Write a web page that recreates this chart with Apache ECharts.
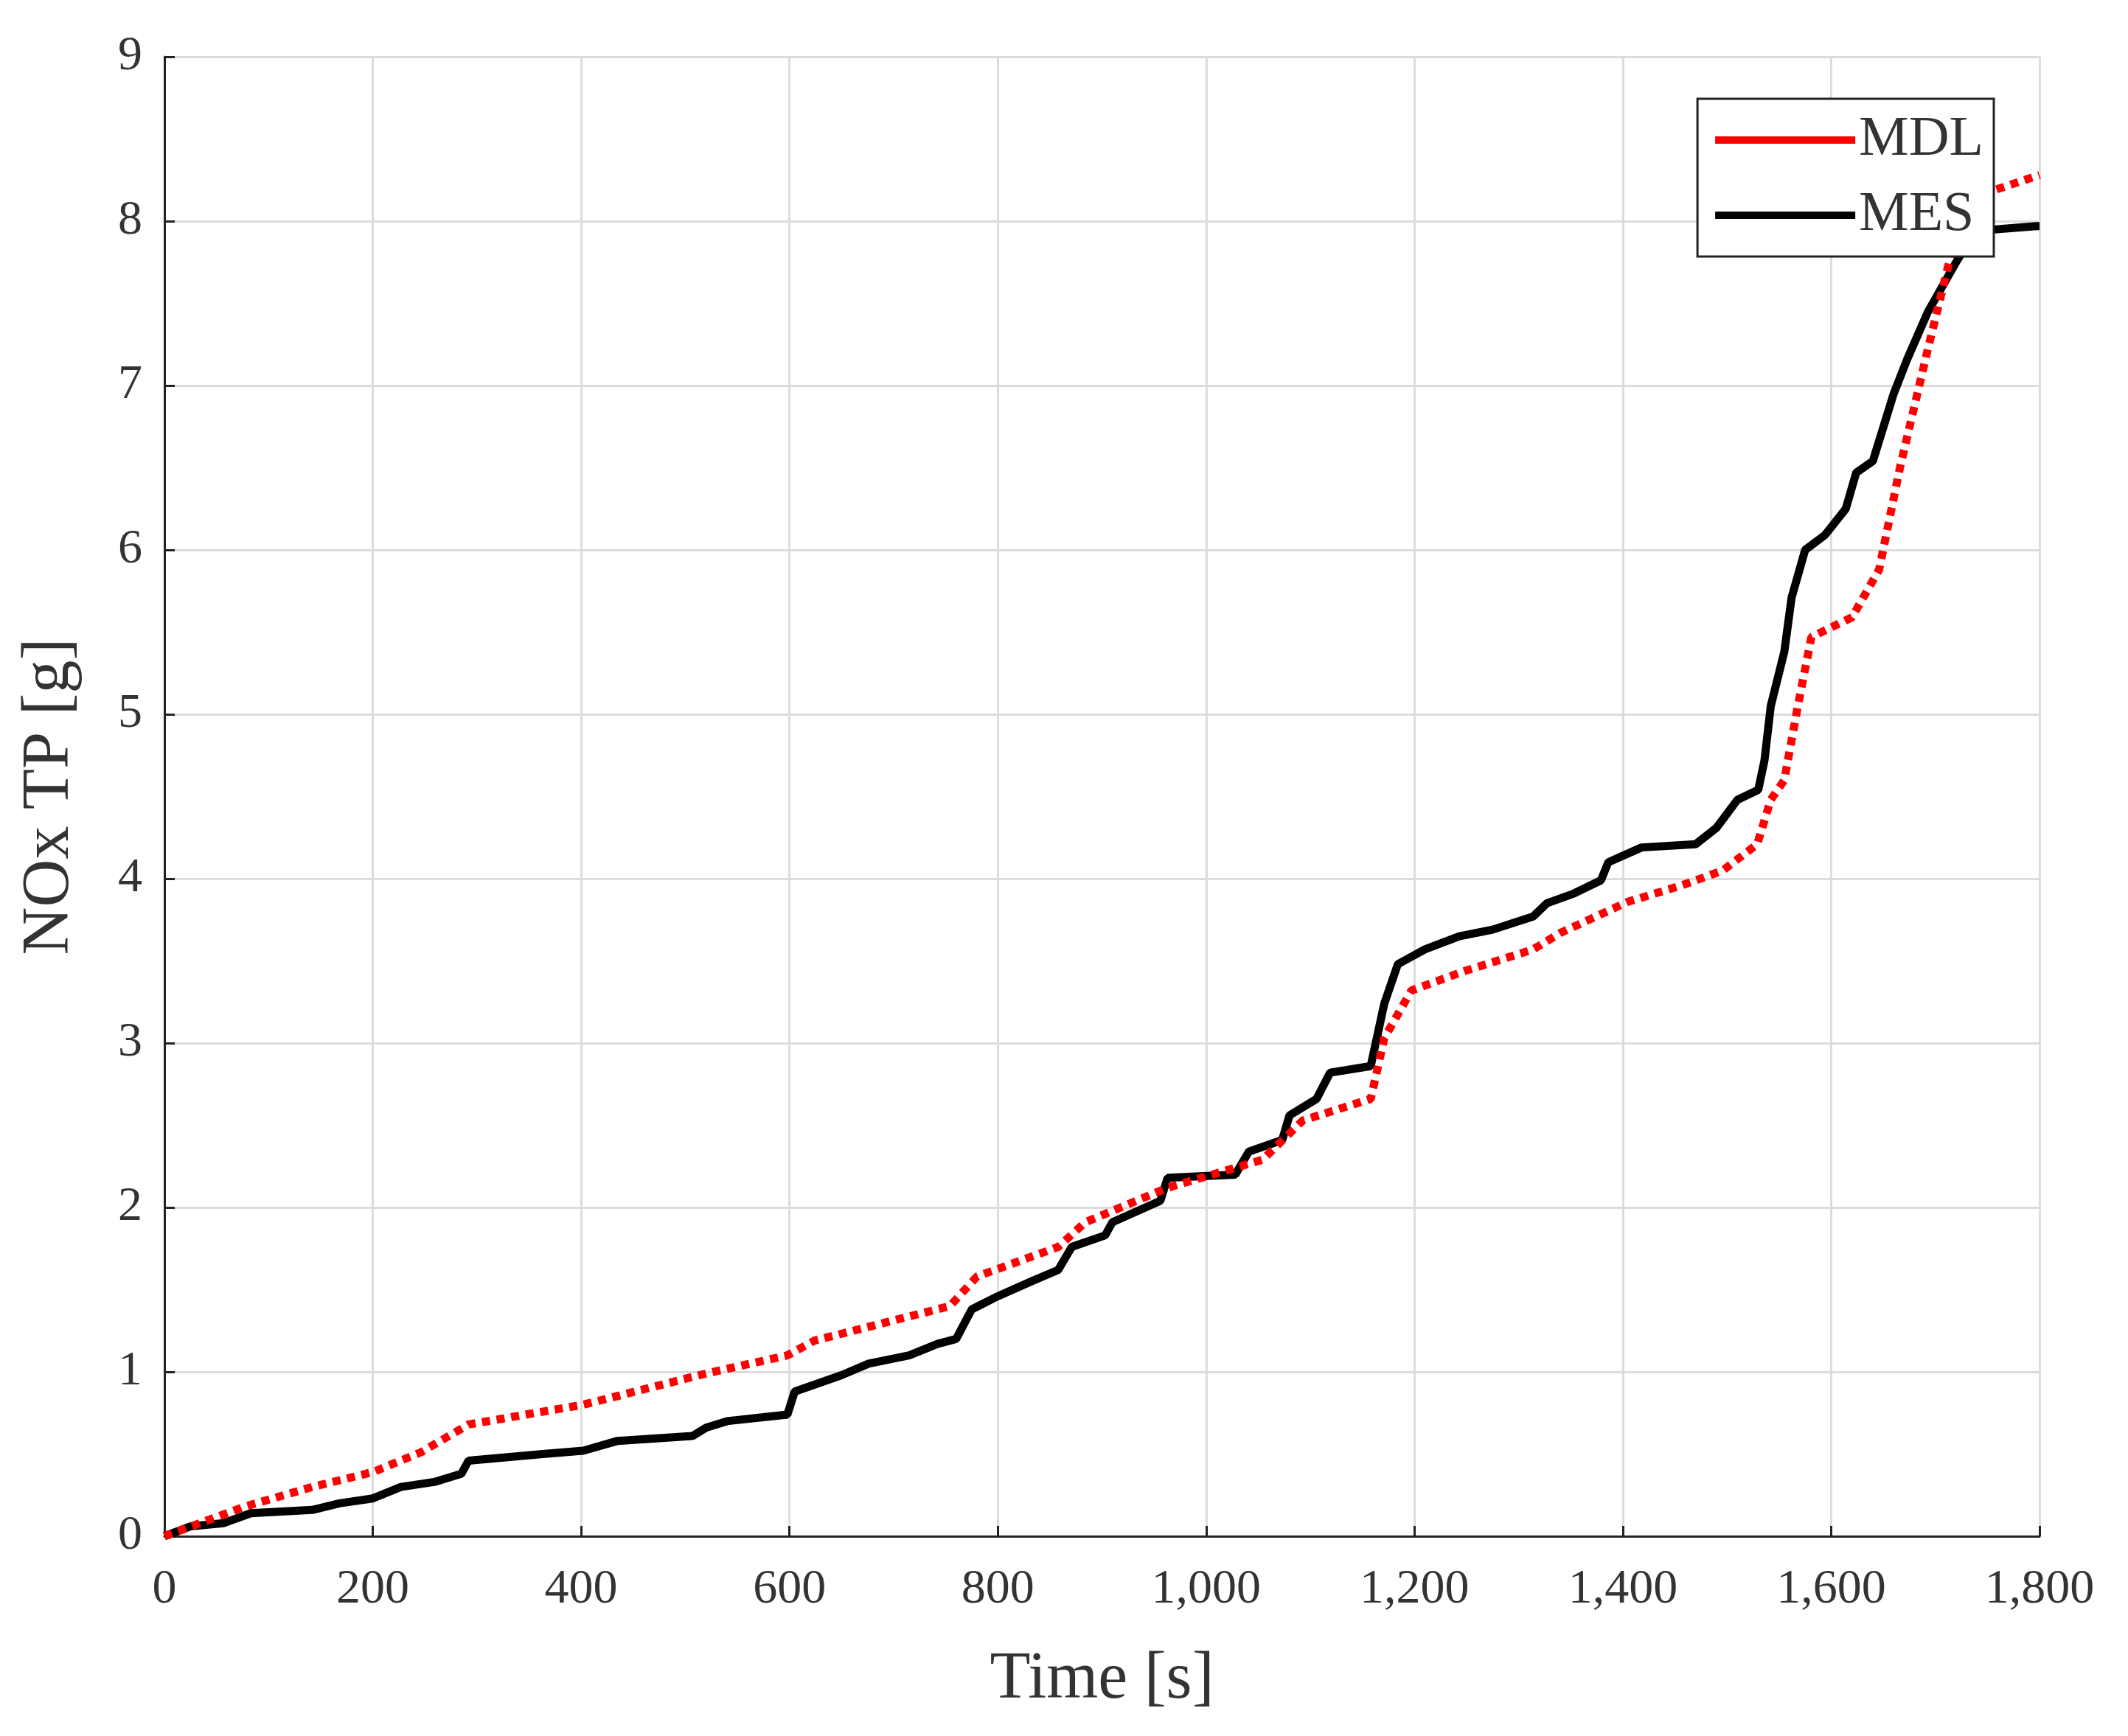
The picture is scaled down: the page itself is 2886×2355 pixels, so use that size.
<!DOCTYPE html>
<html>
<head>
<meta charset="utf-8">
<script src="https://cdn.jsdelivr.net/npm/echarts@6/dist/echarts.min.js"></script>
<style>html,body{margin:0;padding:0;background:#fff}#chart{width:2886px;height:2355px}</style>
</head>
<body>
<div id="chart"></div>
<script>
// cumulative NOx tailpipe mass
const mesData = [
  [0, 0], [25, 0.06], [57, 0.08], [83, 0.14], [142, 0.16], [168, 0.2], [200, 0.23],
  [227, 0.3], [259, 0.33], [285, 0.38], [292, 0.46], [363, 0.5], [402, 0.52],
  [435, 0.58], [507, 0.61], [520, 0.66], [540, 0.7], [598, 0.74], [605, 0.88],
  [650, 0.98], [676, 1.05], [715, 1.1], [742, 1.17], [760, 1.2], [775, 1.38],
  [800, 1.46], [832, 1.55], [858, 1.62], [871, 1.76], [903, 1.83], [910, 1.91],
  [956, 2.04], [963, 2.18], [1028, 2.2], [1041, 2.34], [1073, 2.41], [1080, 2.56],
  [1106, 2.66], [1119, 2.82], [1158, 2.86], [1171, 3.24], [1184, 3.48], [1210, 3.57],
  [1243, 3.65], [1275, 3.69], [1314, 3.77], [1327, 3.85], [1353, 3.91], [1379, 3.99],
  [1386, 4.1], [1418, 4.19], [1470, 4.21], [1490, 4.31], [1510, 4.48], [1530, 4.54],
  [1536, 4.72], [1542, 5.05], [1555, 5.38], [1562, 5.71], [1575, 6.0], [1594, 6.09],
  [1614, 6.25], [1624, 6.47], [1640, 6.54], [1660, 6.95], [1673, 7.16], [1693, 7.45],
  [1719, 7.74], [1738, 7.94], [1797, 7.97], [1800, 7.97]
]
const mdlData = [
  [0, 0], [77, 0.18], [142, 0.3], [200, 0.39], [246, 0.51], [292, 0.68], [402, 0.8],
  [520, 0.99], [598, 1.1], [624, 1.19], [754, 1.4], [780, 1.58], [858, 1.76],
  [884, 1.91], [963, 2.12], [1054, 2.29], [1093, 2.53], [1158, 2.66], [1171, 3.03],
  [1197, 3.32], [1249, 3.44], [1314, 3.57], [1340, 3.67], [1405, 3.86], [1457, 3.96],
  [1496, 4.05], [1529, 4.21], [1542, 4.48], [1555, 4.6], [1568, 5.05], [1581, 5.47],
  [1620, 5.59], [1646, 5.88], [1666, 6.5], [1692, 7.2], [1719, 7.9], [1738, 8.15],
  [1800, 8.28]
]

const font = 'Liberation Serif'
const chart = echarts.init(document.getElementById('chart'))
const axisCommon = {
  axisLine: { show: true, lineStyle: { color: '#222', width: 3 } },
  axisTick: { show: true, inside: true, length: 14, lineStyle: { color: '#222', width: 3 } },
  axisLabel: { fontFamily: font, fontSize: 66, color: '#333' },
  splitLine: { show: true, lineStyle: { color: '#dcdcdc', width: 3 } },
  nameLocation: 'middle',
  nameTextStyle: { fontFamily: font, fontSize: 90, color: '#333' }
}
chart.setOption({
  backgroundColor: '#fff',
  animation: false,
  grid: { left: 223, right: 120, top: 77, bottom: 271, containLabel: false },
  legend: {
    right: 182, top: 134, orient: 'vertical', itemWidth: 190, itemHeight: 10, itemGap: 26,
    padding: [18, 14, 18, 24],
    borderColor: '#222', borderWidth: 3, backgroundColor: '#fff',
    textStyle: { fontFamily: font, fontSize: 76, color: '#333' },
    data: [{ name: 'MDL', icon: 'rect' }, { name: 'MES', icon: 'rect' }]
  },
  xAxis: Object.assign({}, axisCommon, {
    type: 'value', min: 0, max: 1800, interval: 200, name: 'Time [s]', nameGap: 150,
    axisLabel: Object.assign({}, axisCommon.axisLabel, { margin: 40 })
  }),
  yAxis: Object.assign({}, axisCommon, {
    type: 'value', min: 0, max: 9, interval: 1, name: 'NOx TP [g]', nameGap: 110,
    axisLabel: Object.assign({}, axisCommon.axisLabel, { margin: 30 })
  }),
  series: [
    {
      name: 'MDL', type: 'line', data: mdlData, showSymbol: false, symbol: 'none',
      itemStyle: { color: '#ff0000' },
      lineStyle: { color: '#ff0000', width: 11, type: [11, 9] }, z: 3
    },
    {
      name: 'MES', type: 'line', data: mesData, showSymbol: false, symbol: 'none',
      itemStyle: { color: '#000' },
      lineStyle: { color: '#000', width: 11 }, z: 2
    }
  ]
})
</script>
</body>
</html>
